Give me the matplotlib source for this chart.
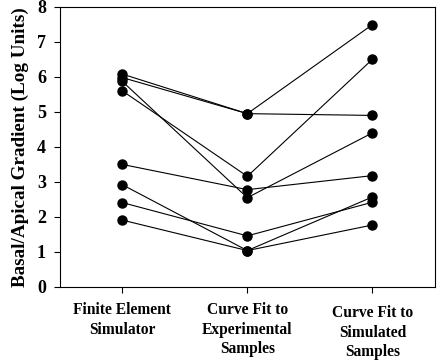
import matplotlib
matplotlib.use("Agg")
import matplotlib.pyplot as plt
import matplotlib.transforms as mtransforms

# Categories and series (one line per sample)
categories = ["Finite Element\nSimulator", "Curve Fit to\nExperimental\nSamples", "Curve Fit to\nSimulated\nSamples"]
s1 = [6.08, 4.95, 7.49]
s2 = [5.98, 4.95, 4.90]
s3 = [5.60, 3.16, 6.50]
s4 = [5.87, 2.55, 4.40]
s5 = [3.50, 2.78, 3.18]
s6 = [2.92, 1.04, 2.57]
s7 = [2.41, 1.46, 2.42]
s8 = [1.91, 1.04, 1.77]
series = [s1, s2, s3, s4, s5, s6, s7, s8]
yticks = [0, 1, 2, 3, 4, 5, 6, 7, 8]

plt.rcParams['font.family'] = ['Liberation Serif', 'DejaVu Serif']
plt.rcParams['font.weight'] = 'bold'

fig = plt.figure(figsize=(4.37, 3.61), dpi=100)
ax = fig.add_axes([0.137, 0.205, 0.858, 0.776])

x = [1, 2, 3]
for s in series:
    ax.plot(x, s, color="black", linewidth=0.8, marker="o", markersize=6.5,
            markerfacecolor="black", markeredgecolor="black")

ax.set_xlim(0.5, 3.5)
ax.set_ylim(0, 8)
ax.set_yticks(yticks)
ax.set_xticks(x)
ax.set_xticklabels(categories, fontsize=11.2, fontweight="bold", linespacing=1.3)
ax.tick_params(axis="y", labelsize=13, length=4, width=0.8, pad=6)
ax.tick_params(axis="x", length=4, width=0.8, pad=7)
for lbl in ax.get_yticklabels():
    lbl.set_fontweight("bold")
# third label sits a little lower in the original
lab3 = ax.get_xticklabels()[2]
lab3.set_transform(lab3.get_transform() + mtransforms.ScaledTranslation(0, -2 / 72, fig.dpi_scale_trans))
for sp in ax.spines.values():
    sp.set_linewidth(0.8)
ax.set_ylabel("Basal/Apical Gradient (Log Units)", fontsize=13.8, fontweight="bold", labelpad=6)

plt.savefig("out.png", dpi=100)
